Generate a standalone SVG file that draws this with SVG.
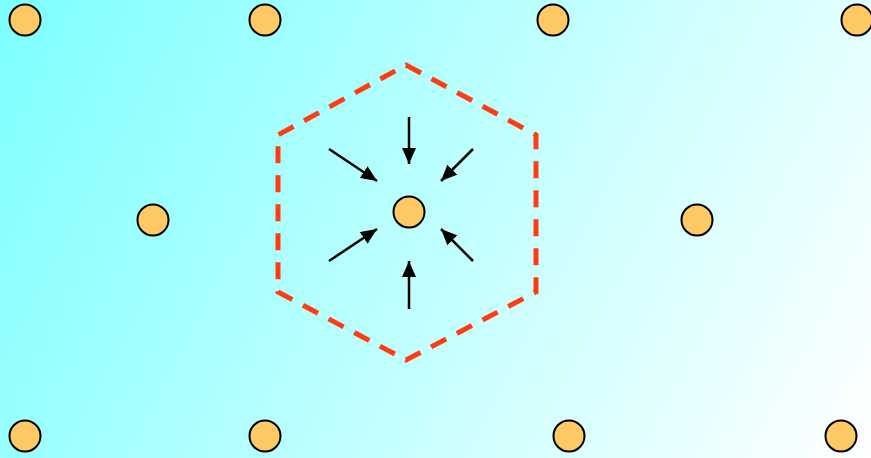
<svg xmlns="http://www.w3.org/2000/svg" width="871" height="458" viewBox="0 0 871 458">
<defs>
<linearGradient id="bg" x1="0" y1="0" x2="871" y2="458" gradientUnits="userSpaceOnUse">
<stop offset="0" stop-color="#7dffff"/>
<stop offset="1" stop-color="#ffffff"/>
</linearGradient>
<marker id="ah" viewBox="0 0 10 10" refX="10" refY="5" markerWidth="6.4" markerHeight="5.6" markerUnits="strokeWidth" orient="auto" preserveAspectRatio="none">
<path d="M0,0 L10,5 L0,10 z" fill="#000"/>
</marker>
</defs>
<style>
.dot{fill:#ffc966;stroke:#000;stroke-width:2}
.arr{stroke:#000;stroke-width:2.5;fill:none;marker-end:url(#ah)}
.hex{fill:none;stroke:#ff3c14;stroke-width:5;stroke-dasharray:17 12}
</style>
<rect width="871" height="458" fill="url(#bg)"/>
<g id="hexagon"><path class="hex" d="M406,65 L536,135 L536,292 L406,360 L278,292 L278,135 Z"/></g>
<g id="connectors">
<line class="arr" x1="409" y1="117" x2="409" y2="164"/>
<line class="arr" x1="329" y1="149" x2="377" y2="181"/>
<line class="arr" x1="473" y1="149" x2="441" y2="181"/>
<line class="arr" x1="329" y1="261" x2="377" y2="229"/>
<line class="arr" x1="473" y1="261" x2="441" y2="229"/>
<line class="arr" x1="409" y1="309" x2="409" y2="261"/>
</g>
<g id="n0"><circle class="dot" cx="409" cy="212" r="15.5"/></g>
<g id="n1"><circle class="dot" cx="25" cy="20" r="15.5"/></g>
<g id="n2"><circle class="dot" cx="265" cy="20" r="15.5"/></g>
<g id="n3"><circle class="dot" cx="553" cy="20" r="15.5"/></g>
<g id="n4"><circle class="dot" cx="857" cy="20" r="15.5"/></g>
<g id="n5"><circle class="dot" cx="153" cy="220" r="15.5"/></g>
<g id="n6"><circle class="dot" cx="697" cy="220" r="15.5"/></g>
<g id="n7"><circle class="dot" cx="25" cy="436" r="15.5"/></g>
<g id="n8"><circle class="dot" cx="265" cy="436" r="15.5"/></g>
<g id="n9"><circle class="dot" cx="569" cy="436" r="15.5"/></g>
<g id="n10"><circle class="dot" cx="841" cy="436" r="15.5"/></g>
</svg>
